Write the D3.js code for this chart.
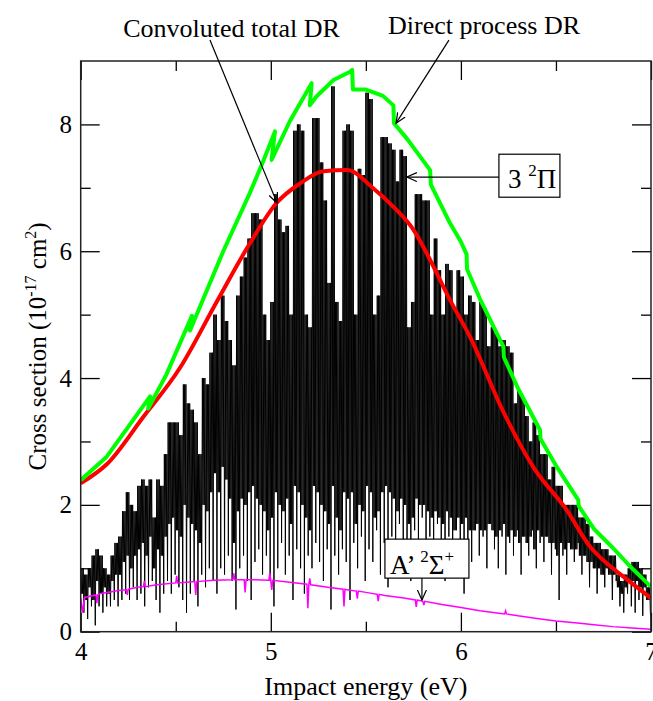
<!DOCTYPE html>
<html>
<head>
<meta charset="utf-8">
<script src="https://cdn.jsdelivr.net/npm/d3@7"></script>
<style>
body { margin: 0; background: #fff; }
text { font-family: "Liberation Serif", "Times New Roman", serif; }
</style>
</head>
<body>
<div id="area_chart"></div>
<script>
// ---- data ----
// Direct process DR (green)
const greenE = [4.00, 4.137, 4.25, 4.365, 4.355, 4.45, 4.585, 4.575, 4.75, 4.89, 4.96, 5.022, 5.004, 5.10, 5.215, 5.205, 5.24, 5.33, 5.417, 5.428, 5.432, 5.50, 5.59, 5.645, 5.648, 5.72, 5.838, 5.842, 5.943, 6.00, 6.03, 6.032, 6.10, 6.223, 6.226, 6.30, 6.416, 6.419, 6.50, 6.617, 6.62, 6.70, 6.80, 6.90, 7.00];
const greenV = [2.39, 2.76, 3.23, 3.71, 3.52, 4.05, 4.98, 4.75, 6.00, 6.92, 7.42, 7.89, 7.44, 8.05, 8.65, 8.30, 8.44, 8.70, 8.83, 8.86, 8.55, 8.55, 8.45, 8.30, 8.02, 7.76, 7.28, 7.05, 6.44, 6.15, 5.95, 5.72, 5.25, 4.50, 4.33, 3.84, 3.18, 3.04, 2.62, 2.08, 1.98, 1.62, 1.32, 1.00, 0.71];

// Convoluted total DR (red)
const redE = [4.00, 4.137, 4.33, 4.52, 4.715, 4.891, 5.03, 5.154, 5.276, 5.40, 5.54, 5.645, 5.75, 5.83, 5.943, 6.048, 6.223, 6.38, 6.556, 6.68, 6.73, 6.85, 7.00];
const redV = [2.34, 2.64, 3.39, 4.15, 5.20, 6.13, 6.76, 7.07, 7.26, 7.28, 6.99, 6.70, 6.34, 5.91, 5.23, 4.65, 3.47, 2.60, 1.92, 1.34, 1.18, 0.88, 0.53];

// A' 2Sigma+ (magenta)
const magE = [4.00, 4.01, 4.02, 4.08, 4.085, 4.09, 4.10, 4.20, 4.24, 4.245, 4.25, 4.30, 4.33, 4.335, 4.34, 4.40, 4.50, 4.505, 4.51, 4.60, 4.605, 4.61, 4.70, 4.80, 4.805, 4.81, 4.86, 4.865, 4.87, 4.90, 4.99, 4.995, 5.00, 5.005, 5.01, 5.10, 5.19, 5.195, 5.20, 5.205, 5.21, 5.30, 5.38, 5.385, 5.39, 5.40, 5.45, 5.455, 5.46, 5.50, 5.56, 5.565, 5.57, 5.60, 5.70, 5.76, 5.765, 5.77, 5.80, 5.805, 5.81, 5.90, 6.00, 6.10, 6.20, 6.23, 6.235, 6.24, 6.30, 6.40, 6.50, 6.60, 6.70, 6.80, 6.90, 7.00];
const magV = [0.53, 0.30, 0.54, 0.58, 0.45, 0.58, 0.60, 0.65, 0.66, 0.58, 0.67, 0.70, 0.71, 0.80, 0.71, 0.74, 0.77, 0.88, 0.77, 0.79, 0.58, 0.79, 0.81, 0.82, 0.92, 0.82, 0.82, 0.62, 0.82, 0.82, 0.81, 0.93, 0.81, 0.66, 0.81, 0.78, 0.75, 0.37, 0.74, 0.84, 0.74, 0.70, 0.67, 0.40, 0.67, 0.66, 0.64, 0.52, 0.64, 0.62, 0.59, 0.48, 0.59, 0.57, 0.53, 0.50, 0.39, 0.50, 0.48, 0.42, 0.48, 0.43, 0.38, 0.33, 0.29, 0.28, 0.33, 0.28, 0.25, 0.21, 0.17, 0.14, 0.11, 0.08, 0.06, 0.04];

// 3 2Pi resonant structure (black), every 0.02 eV from 4.00:
// top of the peaks, floor of the dense part, and deepest dip
const resStart = 4.0;
const resStep = 0.02;
const resHi = [
  1.0, 0.9, 1.0, 1.2, 1.3, 1.2, 1.0, 0.9, 1.2, 1.4,
  1.5, 1.9, 2.2, 2.0, 1.9, 2.3, 2.4, 2.3, 2.4, 1.8,
  2.4, 2.3, 2.8, 3.3, 3.3, 3.3, 3.1, 3.9, 3.6, 3.5,
  3.3, 2.8, 4.0, 3.9, 4.4, 5.0, 4.6, 5.3, 4.9, 4.6,
  4.2, 5.3, 5.6, 5.9, 6.2, 6.6, 6.6, 6.5, 5.0, 4.6,
  5.2, 6.9, 6.5, 6.3, 6.4, 5.0, 7.9, 8.0, 7.9, 5.0,
  4.8, 8.1, 8.1, 7.4, 6.8, 5.5, 8.6, 5.2, 4.9, 7.9,
  8.0, 7.9, 5.0, 7.3, 7.2, 8.5, 8.4, 5.0, 5.3, 7.8,
  7.8, 7.7, 7.6, 7.1, 7.6, 7.5, 4.8, 5.2, 6.9, 6.9,
  6.8, 6.8, 5.0, 6.2, 5.7, 5.0, 5.8, 5.7, 5.1, 5.7,
  5.6, 5.0, 5.3, 5.2, 4.6, 5.2, 5.1, 4.5, 4.8, 4.7,
  4.5, 4.6, 4.5, 4.4, 3.6, 3.8, 3.7, 3.4, 3.0, 3.3,
  3.1, 2.8, 2.8, 2.4, 2.6, 2.3, 2.3, 2.0, 2.0, 2.0,
  2.0, 1.8, 1.8, 1.7, 1.5, 1.4, 1.4, 1.3, 1.3, 1.2,
  1.2, 0.9, 0.8, 0.9, 1.0, 1.1, 1.1, 1.0, 0.9, 0.7,
  0.2
];
const resFloor = [
  0.6, 0.5, 0.7, 0.5, 0.8, 0.6, 0.7, 0.6, 0.8, 0.9,
  0.9, 1.1, 1.2, 1.0, 1.2, 1.3, 1.4, 1.2, 1.5, 1.0,
  1.3, 1.2, 1.5, 1.7, 1.8, 1.6, 1.5, 2.0, 1.8, 1.7,
  1.6, 1.4, 2.0, 1.9, 2.2, 2.5, 2.2, 2.6, 2.4, 2.1,
  1.4, 1.9, 2.1, 2.0, 2.2, 2.3, 2.1, 2.0, 1.9, 1.6,
  1.8, 2.2, 2.0, 1.9, 2.1, 1.7, 2.3, 2.2, 2.0, 1.8,
  1.6, 2.3, 2.2, 2.0, 1.9, 1.7, 2.3, 1.8, 1.6, 2.2,
  2.1, 2.2, 1.7, 2.0, 1.9, 2.3, 2.2, 1.8, 1.9, 2.2,
  2.3, 2.2, 2.1, 1.9, 2.1, 2.0, 1.7, 1.8, 2.1, 2.0,
  2.0, 1.9, 1.8, 1.9, 1.8, 1.7, 1.9, 1.8, 1.6, 1.8,
  1.7, 1.8, 1.6, 1.6, 1.7, 1.6, 1.6, 1.7, 1.6, 1.5,
  1.6, 1.7, 1.5, 1.6, 1.5, 1.4, 1.5, 1.4, 1.5, 1.3,
  1.6, 1.5, 1.5, 1.4, 1.4, 1.2, 1.4, 1.3, 1.4, 1.3,
  1.3, 1.2, 1.2, 1.1, 1.1, 1.0, 1.0, 0.9, 1.0, 0.9,
  0.9, 0.7, 0.6, 0.7, 0.8, 0.8, 0.8, 0.7, 0.7, 0.5,
  0.1
];
const resLo = [
  0.3, 0.2, 0.4, 0.1, 0.4, 0.3, 0.4, 0.4, 0.5, 0.4,
  0.5, 0.6, 0.5, 0.7, 0.5, 0.6, 0.4, 0.7, 0.8, 0.5,
  0.3, 0.6, 0.8, 0.6, 0.9, 0.7, 0.5, 0.3, 0.6, 0.8,
  0.4, 0.9, 0.7, 1.0, 0.8, 0.6, 1.0, 0.9, 1.2, 0.8,
  0.35, 1.0, 1.2, 0.8, 0.5, 1.1, 1.3, 0.9, 1.2, 0.8,
  0.4, 1.0, 1.4, 0.9, 1.2, 0.5, 1.3, 1.0, 0.6, 1.2,
  1.0, 1.4, 1.1, 0.8, 1.3, 0.35, 1.2, 0.9, 1.3, 1.1,
  0.5, 1.4, 1.0, 1.5, 0.8, 1.3, 1.1, 1.6, 0.9, 1.4,
  0.7, 1.5, 1.2, 1.7, 1.0, 1.4, 0.8, 1.6, 1.2, 1.8,
  0.9, 1.5, 1.1, 1.7, 1.2, 0.8, 1.5, 1.0, 1.6, 0.9,
  0.6, 1.4, 1.1, 1.6, 1.2, 1.5, 1.0, 1.7, 1.3, 1.0,
  1.5, 0.9, 1.4, 1.2, 1.6, 0.9, 1.5, 1.2, 1.6, 1.0,
  1.4, 1.1, 1.5, 0.9, 1.3, 0.5, 1.2, 0.9, 1.3, 1.1,
  1.4, 0.9, 1.2, 0.7, 1.0, 0.6, 0.9, 0.7, 0.9, 0.5,
  0.8, 0.4, 0.3, 0.6, 0.4, 0.3, 0.5, 0.25, 0.5, 0.3,
  0.0
];

// ticks
const xMajor = [4, 5, 6, 7];
const xMinor = [4.5, 5.5, 6.5];
const yMajor = [0, 2, 4, 6, 8];
const yMinor = [1, 3, 5, 7];

function drawChart(){
    let dimensions = {
        width: 653,
        height: 701,
        margin: { top: 61, left: 80.7, right: 2, bottom: 69.3 }
    };
    dimensions.boundedWidth = dimensions.width - dimensions.margin.left - dimensions.margin.right;
    dimensions.boundedHeight = dimensions.height - dimensions.margin.top - dimensions.margin.bottom;

    const svg = d3.select("#area_chart").append("svg")
        .attr("width", dimensions.width)
        .attr("height", dimensions.height);

    const xScale = d3.scaleLinear()
        .domain([4, 7])
        .range([dimensions.margin.left, dimensions.margin.left + dimensions.boundedWidth]);
    const yScale = d3.scaleLinear()
        .domain([0, 9])
        .range([dimensions.margin.top + dimensions.boundedHeight, dimensions.margin.top]);

    svg.append("clipPath").attr("id", "plotclip")
        .append("rect")
        .attr("x", xScale(4)).attr("y", yScale(9))
        .attr("width", xScale(7) - xScale(4))
        .attr("height", yScale(0) - yScale(9));

    const plot = svg.append("g").attr("clip-path", "url(#plotclip)");

    const line = d3.line()
        .x(d => xScale(d[0]))
        .y(d => yScale(d[1]));

    // black resonances: each 0.02 eV cell swings top/floor twice, then down to the deepest dip
    const resPoints = [];
    resHi.forEach((h, i) => {
        const e = resStart + i * resStep;
        resPoints.push([e, h]);
        if (i < resHi.length - 1) {
            resPoints.push([e + resStep / 6, resFloor[i]]);
            resPoints.push([e + 2 * resStep / 6, h]);
            resPoints.push([e + 3 * resStep / 6, resFloor[i]]);
            resPoints.push([e + 4 * resStep / 6, h]);
            resPoints.push([e + 5 * resStep / 6, resLo[i]]);
        }
    });
    resPoints.push([7.0, resLo[resLo.length - 1]]);

    plot.append("path")
        .attr("d", line(resPoints))
        .attr("fill", "none")
        .attr("stroke", "black")
        .attr("stroke-width", 1);

    plot.append("path")
        .attr("d", line(magE.map((e, i) => [e, magV[i]])))
        .attr("fill", "none")
        .attr("stroke", "#ff00ff")
        .attr("stroke-width", 1.5);

    const smooth = d3.line()
        .x(d => xScale(d[0]))
        .y(d => yScale(d[1]))
        .curve(d3.curveMonotoneX);

    plot.append("path")
        .attr("d", smooth(redE.map((e, i) => [e, redV[i]])))
        .attr("fill", "none")
        .attr("stroke", "#ff0000")
        .attr("stroke-width", 4)
        .attr("stroke-linejoin", "round");

    plot.append("path")
        .attr("d", line(greenE.map((e, i) => [e, greenV[i]])))
        .attr("fill", "none")
        .attr("stroke", "#00ff00")
        .attr("stroke-width", 4)
        .attr("stroke-linejoin", "round");

    // axes (ticks inside, on all four sides)
    const fontFam = '"Liberation Serif", "Times New Roman", serif';
    const bottomY = yScale(0), topY = yScale(9), leftX = xScale(4), rightX = xScale(7);

    function styleAxis(g){
        g.select(".domain").remove();
        g.selectAll(".tick line").attr("stroke", "black").attr("stroke-width", 1.3);
        g.attr("font-family", fontFam).attr("font-size", 25);
        g.selectAll(".tick text").attr("fill", "black");
    }

    svg.append("g").attr("transform", `translate(0,${bottomY})`)
        .call(d3.axisBottom(xScale).tickValues(xMajor).tickSize(-19).tickPadding(10.5).tickFormat(d3.format("d")))
        .call(styleAxis);
    svg.append("g").attr("transform", `translate(0,${bottomY})`)
        .call(d3.axisBottom(xScale).tickValues(xMinor).tickSize(-10).tickFormat(""))
        .call(styleAxis);
    svg.append("g").attr("transform", `translate(0,${topY})`)
        .call(d3.axisTop(xScale).tickValues(xMajor).tickSize(-19).tickFormat(""))
        .call(styleAxis);
    svg.append("g").attr("transform", `translate(0,${topY})`)
        .call(d3.axisTop(xScale).tickValues(xMinor).tickSize(-10).tickFormat(""))
        .call(styleAxis);

    svg.append("g").attr("transform", `translate(${leftX},0)`)
        .call(d3.axisLeft(yScale).tickValues(yMajor).tickSize(-19).tickPadding(8.7).tickFormat(d3.format("d")))
        .call(styleAxis);
    svg.append("g").attr("transform", `translate(${leftX},0)`)
        .call(d3.axisLeft(yScale).tickValues(yMinor).tickSize(-10).tickFormat(""))
        .call(styleAxis);
    svg.append("g").attr("transform", `translate(${rightX},0)`)
        .call(d3.axisRight(yScale).tickValues(yMajor).tickSize(-19).tickFormat(""))
        .call(styleAxis);
    svg.append("g").attr("transform", `translate(${rightX},0)`)
        .call(d3.axisRight(yScale).tickValues(yMinor).tickSize(-10).tickFormat(""))
        .call(styleAxis);

    svg.append("rect")
        .attr("x", leftX).attr("y", topY)
        .attr("width", rightX - leftX).attr("height", bottomY - topY)
        .attr("fill", "none")
        .attr("stroke", "#222")
        .attr("stroke-width", 1.5);

    // axis titles
    svg.append("text")
        .attr("x", (leftX + rightX) / 2)
        .attr("y", 695)
        .attr("text-anchor", "middle")
        .attr("font-size", 26)
        .text("Impact energy (eV)");

    const yTitle = svg.append("text")
        .attr("transform", `translate(46,${(topY + bottomY) / 2}) rotate(-90)`)
        .attr("text-anchor", "middle")
        .attr("font-size", 25);
    yTitle.append("tspan").text("Cross section (10");
    yTitle.append("tspan").attr("dy", -10).attr("font-size", 16).text("-17");
    yTitle.append("tspan").attr("dy", 10).text(" cm");
    yTitle.append("tspan").attr("dy", -10).attr("font-size", 16).text("2");
    yTitle.append("tspan").attr("dy", 10).text(")");

    // annotations
    svg.append("defs").append("marker")
        .attr("id", "arrowhead")
        .attr("viewBox", "-10 -5 12 10")
        .attr("markerWidth", 12).attr("markerHeight", 10)
        .attr("markerUnits", "userSpaceOnUse")
        .attr("orient", "auto")
        .append("path")
        .attr("d", "M-10,-4.5 L0,0 L-10,4.5")
        .attr("fill", "none")
        .attr("stroke", "black")
        .attr("stroke-width", 1.2);

    const arrows = [
        { from: [4.680, 9.33], to: [5.033, 6.76] },
        { from: [5.937, 9.33], to: [5.659, 8.02] },
        { from: [6.200, 7.17], to: [5.716, 7.17] },
        { from: [5.795, 0.846], to: [5.795, 0.50] }
    ];
    svg.selectAll(".arrow").data(arrows).join("line")
        .attr("class", "arrow")
        .attr("x1", d => xScale(d.from[0])).attr("y1", d => yScale(d.from[1]))
        .attr("x2", d => xScale(d.to[0])).attr("y2", d => yScale(d.to[1]))
        .attr("stroke", "black")
        .attr("stroke-width", 1.2)
        .attr("marker-end", "url(#arrowhead)");

    svg.append("text")
        .attr("x", 231.5).attr("y", 36.5)
        .attr("text-anchor", "middle")
        .attr("font-size", 26)
        .text("Convoluted total DR");
    svg.append("text")
        .attr("x", 484).attr("y", 33.5)
        .attr("text-anchor", "middle")
        .attr("font-size", 26)
        .text("Direct process DR");

    // boxed labels
    svg.append("rect")
        .attr("x", xScale(6.200)).attr("y", yScale(7.53))
        .attr("width", 61).attr("height", 43)
        .attr("fill", "white").attr("stroke", "black").attr("stroke-width", 1.2);
    const piLabel = svg.append("text")
        .attr("x", xScale(6.200) + 9).attr("y", yScale(7.53) + 34)
        .attr("font-size", 27);
    piLabel.append("tspan").text("3 ");
    piLabel.append("tspan").attr("dy", -12).attr("font-size", 17).text("2");
    piLabel.append("tspan").attr("dy", 12).text("\u03A0");

    svg.append("rect")
        .attr("x", xScale(5.795) - 37).attr("y", yScale(1.46))
        .attr("width", 84).attr("height", 39)
        .attr("fill", "white").attr("stroke", "black").attr("stroke-width", 1.2);
    const sigLabel = svg.append("text")
        .attr("x", xScale(5.795) - 32).attr("y", yScale(1.46) + 35)
        .attr("font-size", 27);
    sigLabel.append("tspan").text("A\u2019 ");
    sigLabel.append("tspan").attr("dy", -12).attr("font-size", 17).text("2");
    sigLabel.append("tspan").attr("dy", 12).text("\u03A3");
    sigLabel.append("tspan").attr("dy", -12).attr("font-size", 17).text("+");
}

drawChart();
</script>
</body>
</html>
